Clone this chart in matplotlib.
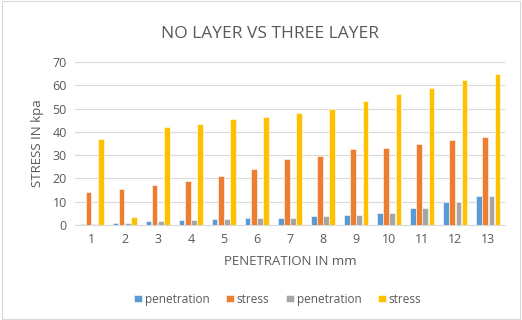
import matplotlib
matplotlib.use("Agg")
import matplotlib.pyplot as plt
import numpy as np

plt.rcParams['font.family'] = ['Open Sans', 'DejaVu Sans']

categories = ['1', '2', '3', '4', '5', '6', '7', '8', '9', '10', '11', '12', '13']
penetration1 = [0.5, 1.0, 1.5, 2.0, 2.5, 3.0, 3.2, 3.9, 4.4, 5.1, 7.4, 9.7, 12.4]
stress1 = [14.3, 15.5, 17.0, 18.8, 21.0, 24.0, 28.2, 29.8, 32.5, 33.0, 35.0, 36.7, 37.7]
penetration2 = [0.5, 1.0, 1.5, 2.0, 2.5, 3.0, 3.2, 3.9, 4.4, 5.1, 7.4, 9.7, 12.4]
stress2 = [37.0, 3.5, 42.0, 43.5, 45.5, 46.5, 48.0, 50.0, 53.3, 56.3, 58.8, 62.3, 65.0]
series_names = ['penetration', 'stress', 'penetration', 'stress']
colors = ['#5B9BD5', '#ED7D31', '#A5A5A5', '#FFC000']

fig = plt.figure(figsize=(5.22, 3.20), dpi=100)
ax = fig.add_axes([0.144, 0.297, 0.823, 0.509])

x = np.arange(len(categories))
w = 0.165
series = [penetration1, stress1, penetration2, stress2]
for i, (vals, name, c) in enumerate(zip(series, series_names, colors)):
    ax.bar(x + (i - 1.5) * (w + 0.02), vals, width=w, color=c, label=name,
           edgecolor='white', linewidth=0.4, zorder=3)

ax.set_xlim(-0.5, len(categories) - 0.5)
ax.set_ylim(0, 70)
ax.set_yticks(range(0, 71, 10))
ax.set_xticks(x)
ax.set_xticklabels(categories)
ax.yaxis.grid(True, color='#D9D9D9', linewidth=0.8, zorder=0)
for s in ['top', 'right', 'left']:
    ax.spines[s].set_visible(False)
ax.spines['bottom'].set_color('#D9D9D9')
ax.tick_params(axis='both', length=0, labelsize=9, colors='#595959', pad=6)

fig.text(0.518, 0.895, 'NO LAYER VS THREE LAYER', fontsize=12.5, color='#595959',
         ha='center', va='center')
ax.set_xlabel('PENETRATION IN mm', fontsize=9.5, color='#595959', labelpad=6)
ax.set_ylabel('STRESS IN kpa', fontsize=9.5, color='#595959', labelpad=6)

leg = fig.legend(loc='center', bbox_to_anchor=(0.532, 0.065), ncol=4, frameon=False,
                 fontsize=8.5, handlelength=0.65, handleheight=0.65, columnspacing=1.4,
                 handletextpad=0.25, labelcolor='#595959')

fig.patches.append(plt.Rectangle((0.003, 0.003), 0.994, 0.994, transform=fig.transFigure,
                                 fill=False, edgecolor='#D9D9D9', linewidth=0.8))

fig.savefig('out.png', dpi=100, facecolor='white')
